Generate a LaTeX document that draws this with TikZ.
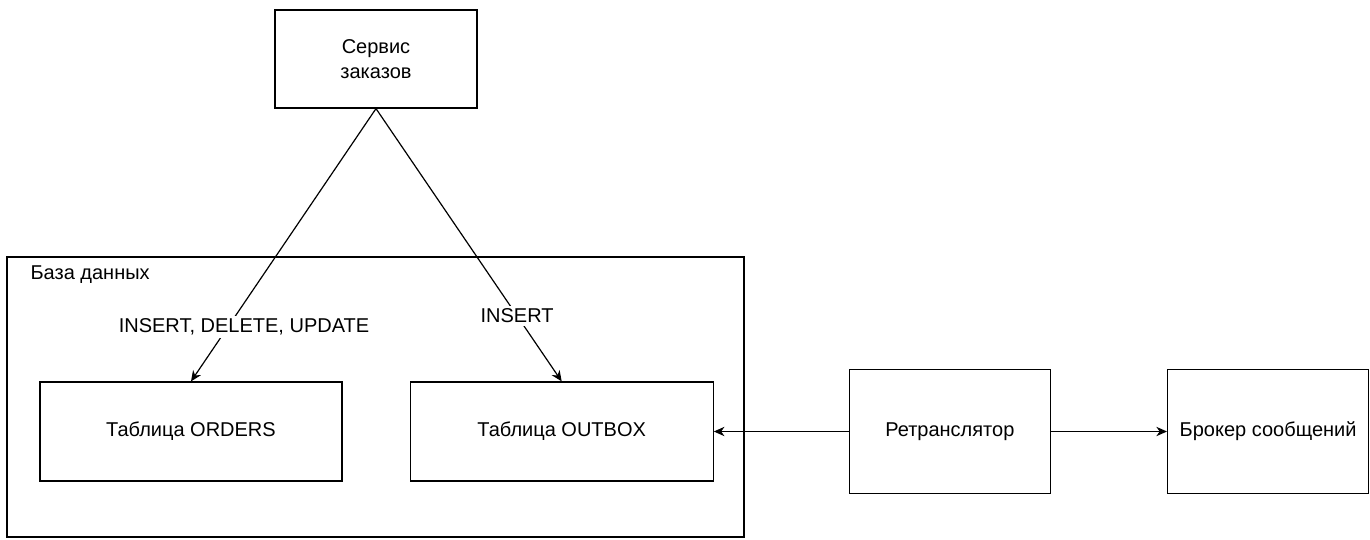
\documentclass[tikz,border=0pt]{standalone}
\usepackage{fontspec}
\setmainfont{Liberation Sans}
\usetikzlibrary{positioning, arrows.meta}

\begin{document}
\begin{tikzpicture}[x=0.75pt, y=-0.75pt, font=\fontsize{15pt}{18.75pt}\selectfont, line width=0.9pt, box/.style={draw, rectangle, align=center, inner sep=2pt}, arrow/.style={-{Stealth[length=8pt, width=7pt, inset=2.5pt]}}, oplabel/.style={fill=white, inner sep=2pt}]
\useasboundingbox (0,0) rectangle (1370,539);
\node[box, minimum width=552.75pt, minimum height=210pt] (db) at (375.5,397) {};
\node[anchor=west, inner sep=0pt] (dblabel) at (30,275) {База данных};
\node[box, minimum width=151.5pt, minimum height=73.5pt] (service) at (376,59) {Сервис\\заказов};
\node[box, minimum width=226.5pt, minimum height=74.25pt] (orders) at (191,431.5) {Таблица ORDERS};
\node[box, minimum width=227.25pt, minimum height=74.25pt, right=50.25pt of orders] (outbox) {Таблица OUTBOX};
\node[box, minimum width=150.75pt, minimum height=93pt, right=101.25pt of outbox] (relay) {Ретранслятор};
\node[box, minimum width=150.75pt, minimum height=93pt, right=87pt of relay] (broker) {Брокер сообщений};
\draw[arrow] (service.south) -- node[oplabel, pos=0.8, xshift=12pt] {INSERT, DELETE, UPDATE} (orders.north);
\draw[arrow] (service.south) -- node[oplabel, pos=0.76] {INSERT} (outbox.north);
\draw[arrow] (relay) -- (outbox);
\draw[arrow] (relay) -- (broker);
\end{tikzpicture}
\end{document}
